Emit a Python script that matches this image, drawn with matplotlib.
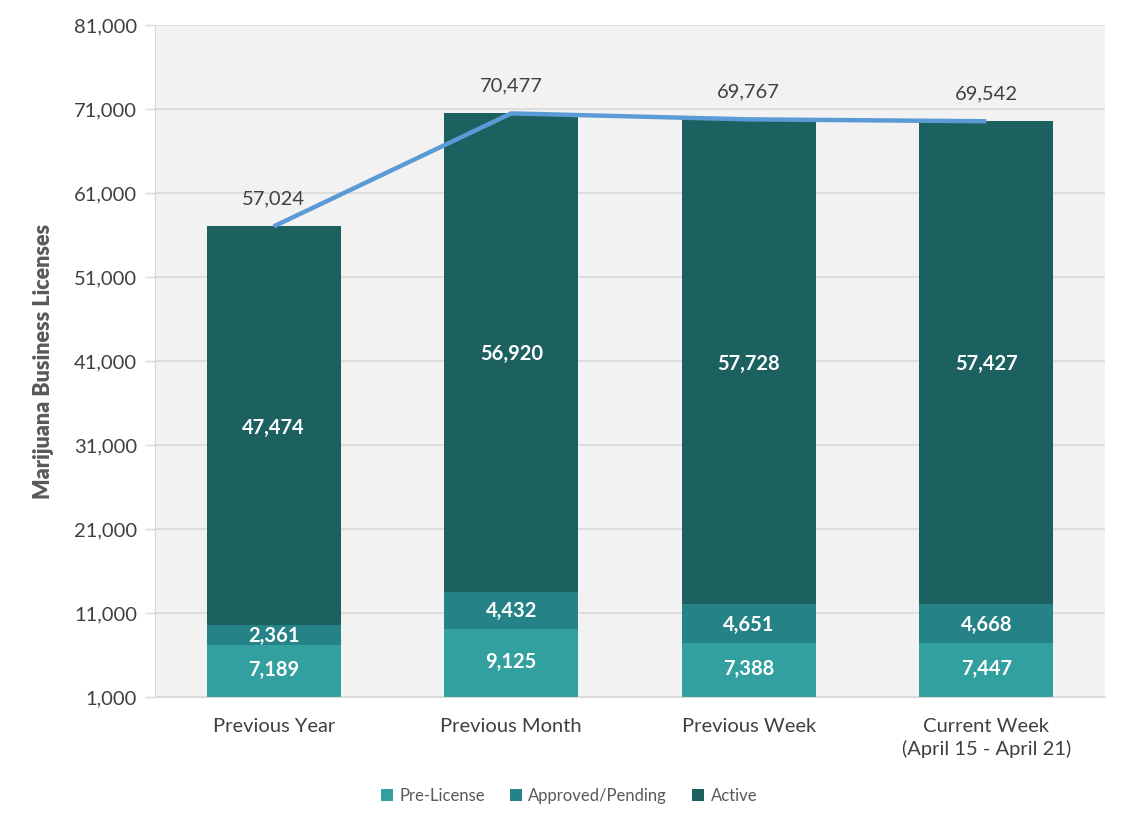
import numpy as np
import matplotlib.pyplot as plt

plt.rcParams['font.family'] = ['Lato', 'DejaVu Sans']

# data
categories = ["Previous Year", "Previous Month", "Previous Week", "Current Week\n(April 15 - April 21)"]
pre_license = [7189, 9125, 7388, 7447]
approved = [2361, 4432, 4651, 4668]
active = [47474, 56920, 57728, 57427]
totals = [57024, 70477, 69767, 69542]

c_pre = '#33A0A0'
c_app = '#258387'
c_act = '#1C6060'
c_line = '#5B9BD5'
txt = '#404040'

fig = plt.figure(figsize=(11.27, 8.27), dpi=100)
ax = fig.add_axes([155/1127, 1 - 697/827, 950/1127, 672/827])
ax.set_facecolor('#F2F2F2')

x = np.arange(len(categories))
w = 0.565
pre = np.array(pre_license)
app = np.array(approved)
act = np.array(active)

ax.bar(x, pre, w, color=c_pre, label='Pre-License', zorder=2)
ax.bar(x, app, w, bottom=pre, color=c_app, label='Approved/Pending', zorder=2)
ax.bar(x, act, w, bottom=pre + app, color=c_act, label='Active', zorder=2)

ax.plot(x, totals, color=c_line, lw=3.2, zorder=3, solid_capstyle='butt')

# segment labels
for i in range(len(x)):
    ax.text(x[i], (1000 + pre[i]) / 2 + 100, f"{pre[i]:,}", ha='center', va='center',
            color='white', fontsize=14.5, fontweight='bold', zorder=4)
    ax.text(x[i], pre[i] + app[i] / 2 - 150, f"{app[i]:,}", ha='center', va='center',
            color='white', fontsize=14.5, fontweight='bold', zorder=4)
    ax.text(x[i], pre[i] + app[i] + act[i] / 2 - 200, f"{act[i]:,}", ha='center', va='center',
            color='white', fontsize=14.5, fontweight='bold', zorder=4)
    ax.text(x[i], totals[i] + 3300, f"{totals[i]:,}", ha='center', va='center',
            color=txt, fontsize=14.5, zorder=4)

ax.set_xlim(-0.5, 3.5)
ax.set_ylim(1000, 81000)
ax.set_yticks(np.arange(1000, 81001, 10000))
ax.set_yticklabels([f"{v:,}" for v in np.arange(1000, 81001, 10000)])
ax.set_xticks(x)
ax.set_xticklabels(categories, linespacing=1.35)
ax.tick_params(axis='y', colors='#D9D9D9', labelcolor=txt, labelsize=14.5, length=7, width=1, pad=6)
ax.tick_params(axis='x', length=0, labelcolor=txt, labelsize=14.5, pad=15)
ax.grid(axis='y', color='#D9D9D9', lw=1.2, zorder=1)
ax.set_axisbelow(True)
for s in ['top', 'right']:
    ax.spines[s].set_visible(False)
ax.spines['left'].set_color('#D9D9D9')
ax.spines['bottom'].set_color('#D9D9D9')

ax.set_ylabel("Marijuana Business Licenses", fontsize=15.5, fontweight='heavy', color='#595959', labelpad=14)

fig.legend(loc='center', bbox_to_anchor=(0.505, 1 - 796/827), ncol=3, frameon=False,
           fontsize=12, handlelength=0.7, handleheight=0.7, handletextpad=0.4, columnspacing=1.5,
           labelcolor='#595959')

plt.savefig('out.png', dpi=100)
